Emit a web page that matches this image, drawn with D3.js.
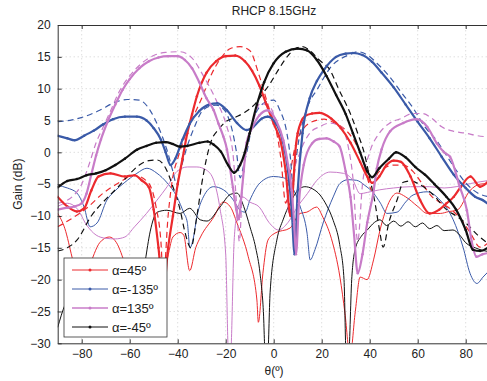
<!DOCTYPE html>
<html>
<head>
<meta charset="utf-8">
<script src="https://cdn.jsdelivr.net/npm/d3@7"></script>
<style>
  body { margin: 0; background: #fff; }
  svg text { font-family: "Liberation Sans", Arial, sans-serif; fill: #222; }
</style>
</head>
<body>
<div id="chart"></div>
<script>
// theta (deg), gain (dB) pairs
const redMain = [[-90,-7],[-86,-8.5],[-82,-9.3],[-79,-8.8],[-76,-6],[-73,-3.8],[-68,-3.3],[-62,-3.8],[-58,-3.6],[-55,-4.4],[-52,-5.5],[-50,-9],[-48,-15],[-46,-22],[-44,-15],[-42,-10],[-40,-5],[-38,-1],[-36,3],[-34,6],[-32,8.8],[-28,12.5],[-24,14.3],[-20,15.1],[-16,15.2],[-12,14.3],[-9,12.8],[-6,10.5],[-3,7.5],[0,4.5],[3,1.5],[5,-3],[7,-10],[8,-6],[9,0],[10,3],[13,5.7],[16,6.1],[19,6.2],[24,5.3],[28,3.8],[32,1.5],[36,-1.5],[39,-3.8],[41,-4.8],[44,-3.8],[47,-2],[50,-1.3],[53,-1.5],[57,-3.8],[61,-7.5],[65,-9.6],[69,-9],[72,-8],[75,-7],[78,-5.4],[82,-3.8],[86,-5.4],[90,-4.3]];
const redDash = [[-90,-11.7],[-85,-10.6],[-78,-8.8],[-71,-6.4],[-65,-4.9],[-58,-3.6],[-52,-4.9],[-49,-8.6],[-47,-14],[-46,-20],[-44,-10],[-42,-3.8],[-40,-1],[-37,2.5],[-33,6],[-30,8.5],[-26,12.2],[-22,14.8],[-18,16.3],[-14,16.6],[-10,16],[-6,12],[-2,7],[1,3.5],[3,-1],[5,-8],[7,-3],[9,1],[12,3.5],[16,4.8],[21,5.2],[26,4.5],[30,3.5],[34,1.5],[37,-1],[39,-4],[41,-6],[43,-3.5],[46,-2.5],[50,-2],[54,-2],[58,-3],[62,-5],[66,-7],[70,-8],[74,-9],[78,-10.5],[82,-12.7],[86,-14.9],[90,-14]];
const redThin = [[-90,-9.6],[-87,-12],[-84,-16.5],[-81,-21],[-77,-18],[-72.5,-14.2],[-68.5,-13.3],[-65.5,-14.2],[-62.5,-17],[-59,-22],[-55,-24],[-51,-21],[-47,-20],[-44.5,-17],[-42,-13.3],[-39,-12.6],[-37.5,-13],[-35,-18.6],[-32.5,-15],[-30.5,-13.3],[-25,-10.2],[-21,-7.8],[-18,-8.6],[-15.3,-11.1],[-10.6,-16.4],[-7,-23.2],[-6.4,-26.7],[-4.5,-19],[-2.4,-13.8],[0.5,-12.7],[6.8,-11.9],[11,-9.6],[13.8,-9.4],[17.9,-8.6],[20.5,-10.2],[24,-13.5],[27.6,-19.6],[29.7,-25.3],[31.8,-32],[34,-25],[36,-19.6],[38.9,-20],[41.6,-16.9],[44.3,-12.2],[48.5,-7.5],[51.4,-6.4],[55,-7],[60,-8.5],[64,-9.6],[69.4,-9.6],[73,-9.3],[76.4,-9.1],[81.8,-6],[86,-5],[90,-4.9]];

const blueMain = [[-90,2.6],[-86,2.2],[-83,1.9],[-79,2.6],[-75,3.4],[-71,4.4],[-67,5.2],[-62,5.6],[-57,5.6],[-53,5],[-50,3.8],[-47,2],[-45,0],[-43,-2],[-41,-1],[-38,2],[-35,4.5],[-31,6.5],[-27,7.5],[-23.5,7.7],[-19.5,6.6],[-15.3,4.6],[-11.3,3.5],[-8.5,4],[-5,5.3],[-2.5,5.6],[1,4.5],[4,1.5],[6,-3],[7.5,-9],[8.7,-16],[10,-6],[12,3],[15,8.5],[18,11.2],[21,13],[26,15],[30,15.5],[33,15.6],[37,15.3],[41,14.2],[45,12.5],[50,10.2],[55,7.5],[60,4.8],[65,2.2],[70,-0.7],[75,-3.5],[80,-5.6],[84,-7],[87,-7.5],[90,-8.3]];
const blueDash = [[-90,4.8],[-84,5.1],[-79,5.6],[-72.5,6.6],[-67,7.7],[-61,8.3],[-56,8.2],[-51.5,6.6],[-47.5,3.5],[-44.5,0.4],[-42,-3],[-40.5,-5],[-39,-3],[-36,1],[-33,4],[-30.5,6.1],[-27,7.2],[-24,7.4],[-21.5,7],[-19.5,6],[-17,3],[-15.5,0],[-14,-4],[-12.5,-2],[-11,0.4],[-8.5,5.1],[-4.2,7.7],[0,8.2],[2.6,6.6],[5.5,3],[7,-1],[8,-5],[9,-2],[10.5,2],[12.3,5],[15,8],[18,9.8],[21,11.8],[24,13.5],[28,14.7],[32,15.4],[35,15.8],[39,15.3],[43,14],[48,12],[53,9.5],[58,7],[63,4],[68,1.8],[72,-0.5],[76,-2.8],[80,-4.8],[85,-6.4],[90,-7]];
const blueThin = [[-90,-5.2],[-86,-5.6],[-82,-6.4],[-79,-8.6],[-76.5,-11.7],[-73.6,-11.1],[-69.5,-7.5],[-66,-6],[-62.3,-4.8],[-57,-3.3],[-52.8,-2.5],[-48.6,-3.3],[-44.4,-4.8],[-40.3,-7],[-37.5,-9.5],[-36,-11],[-34.9,-15],[-33.5,-13.5],[-32,-10.1],[-29.3,-7],[-25.1,-5.4],[-20.9,-5.9],[-16.8,-7.5],[-14,-9.1],[-11.9,-9.4],[-9.9,-7.5],[-5.7,-4.8],[-0.1,-3.8],[4.1,-4],[8.3,-5.9],[11.1,-8.6],[13.9,-12.7],[15.2,-16.9],[17.2,-15.3],[20.6,-11.1],[24.8,-7],[27.6,-4.9],[31,-4.3],[34.6,-4.4],[38,-5.2],[41.6,-6.4],[44.5,-8],[47.2,-9.6],[51.4,-9.4],[55,-7.8],[58.1,-6.7],[63.9,-6.2],[69.3,-7.5],[74.8,-10.6],[78.9,-14.9],[81.8,-19],[84.7,-20.6],[87.2,-19.6],[90,-18.5]];

const magentaMain = [[-90,-9],[-86,-8.7],[-83,-8.5],[-80,-8],[-78,-6.5],[-76,-3.5],[-74,-0.5],[-72,2],[-69,5],[-66,7.5],[-63,9.8],[-60,11.5],[-56,13.2],[-52,14.3],[-48,14.9],[-44,15.1],[-40,15.1],[-37,14.5],[-34,13.2],[-31,11],[-28,8.5],[-25,6.6],[-23,4.5],[-21,2.5],[-19.5,0.5],[-18.2,-2.5],[-17,-5.5],[-15.6,-9],[-14.5,-10.5],[-13.5,-7],[-12.5,-3],[-11.3,1.5],[-9,3.8],[-6,5.8],[-2.5,6.6],[1,5],[4,1.9],[6,-2],[7.5,-6],[8.5,-11],[9.3,-16],[10.5,-8],[12.5,-2],[16,1.4],[19,2.1],[22,2.2],[25,1.7],[27.5,0.9],[30,-3],[32,-7],[33.5,-13],[35,-19],[37,-16],[39,-11],[41.5,-6.4],[43,-2.5],[45,0.5],[48.5,3.3],[54,4.6],[59.5,5.2],[64,4],[68,1.4],[71,0],[73.5,-0.7],[77.5,-5.4],[80.5,-9.1],[82.5,-14],[84.5,-16.4],[87,-16],[90,-15.8]];
const magentaDash = [[-90,-8],[-84,-7],[-80,-5],[-77,-2],[-74,1.5],[-71,4],[-68,6.5],[-64,9.8],[-60,12],[-55,14],[-50,15.2],[-45,15.7],[-39,15.8],[-34,14.8],[-29,11.8],[-24,8.2],[-19.5,4],[-17,-0.1],[-15.5,-8],[-14.3,-14],[-13,-5],[-10.5,1.9],[-8,5.5],[-5.7,7.7],[-2,7.3],[1,5],[3,2.5],[5,-3],[6.5,-10],[8,-4],[11,0],[15,3],[19,4],[23.5,4.6],[28,4],[31,1],[33,-4],[35,-14],[37,-5],[40,0],[44,3],[48,4.5],[53,5.3],[58,6.1],[62,6.1],[66,5.3],[70,4],[75,3.3],[80,3],[85,2.6],[90,2.4]];
const magentaThin = [[-90,-8.5],[-86,-8],[-82,-8.8],[-78,-11.4],[-74,-13],[-70,-13.5],[-66,-13.6],[-62,-13.3],[-58,-11.7],[-53,-9.6],[-48.6,-7.5],[-44.4,-5.4],[-40.3,-3],[-36,-2.3],[-32,-2.3],[-28,-2.8],[-25,-4.4],[-22.3,-9],[-20,-16],[-18.8,-32],[-18,-32],[-16.5,-14],[-15,-9],[-13,-7],[-10,-7.8],[-6,-8.6],[-2,-11],[2,-12.2],[6,-11],[10,-8.5],[14,-6.5],[18,-4.4],[23.5,-3.1],[29,-3.3],[33,-4.4],[36,-6.5],[39,-6.3],[44,-5.9],[50,-5.6],[57,-5.4],[65,-5.4],[71,-5.6],[76,-5.4],[82,-4.9],[90,-4.4]];

const blackMain = [[-90,-5.5],[-86,-4.5],[-82,-4.2],[-78,-3.6],[-74,-3.3],[-70,-2.8],[-66,-2],[-62,-1],[-57,0.4],[-53,1],[-49,1.5],[-45,1.6],[-42,1.3],[-39,0.9],[-36,1],[-31,1.5],[-27.5,1.7],[-25,1.2],[-22,0.1],[-19,-2],[-16.5,-3.2],[-14,-2],[-12,0],[-10,3],[-7,7.5],[-4,11],[0,14],[5,15.8],[10,16.3],[14,16],[18,14.5],[22,12],[26,9],[30,6],[33,3],[36,0],[39,-3],[41,-3.9],[44,-2.5],[48,-1],[51,0],[55,-0.8],[59,-2.3],[63,-3.5],[67,-5],[72,-7],[76,-9],[80,-12.2],[83,-15.3],[86,-15.5],[90,-14.8]];
const blackDash = [[-90,-15.5],[-86,-15],[-82,-13.8],[-76,-10],[-69.5,-7.2],[-65,-5.5],[-61,-3.8],[-56,-2],[-52,-1.3],[-48.6,-1.2],[-45,-2.5],[-42,-5.4],[-39,-9],[-37,-12.5],[-34.5,-15],[-32,-10],[-30,-5],[-28,-1],[-26,1.8],[-23,3.6],[-20,4.8],[-16,5.5],[-12,6.3],[-8,7.5],[-4,9.5],[-1.5,10.8],[2,13],[6,15.2],[9,16.3],[12,16.6],[15,16],[19,14.5],[23.5,12.9],[27,10],[31.8,6.2],[35,3],[38,-0.5],[40,-4],[42,-7.5],[44,-12],[45.6,-14.9],[48,-11],[51.4,-7.5],[54,-4.7],[57,-4.5],[61,-5.1],[66,-6.5],[72,-9],[76,-10],[80,-11.1],[85,-13],[90,-14.5]];
const blackThin = [[-90,-27.5],[-87,-24],[-83,-22],[-78,-22.5],[-72,-24],[-66,-25],[-60,-25.5],[-56,-23],[-53.5,-17],[-51.5,-12.5],[-48.5,-9.4],[-44.5,-9.1],[-39,-9.6],[-35,-8.8],[-30.6,-10.6],[-27.8,-10.8],[-22.4,-8.6],[-18,-6.6],[-15.3,-6.4],[-12.5,-8.5],[-9.9,-11.7],[-7.5,-15],[-5.7,-19],[-4.3,-25],[-3.5,-32],[-2.5,-32],[-1.5,-22],[1.3,-13.8],[4,-10.5],[6.8,-8],[10,-6],[13,-5.4],[16,-5.7],[19.3,-6.7],[22,-8.3],[24.8,-10.7],[27.5,-14.5],[29.3,-20],[30.2,-32],[31.2,-32],[32.5,-20],[33.9,-15.3],[36.5,-13.2],[39,-12.2],[42,-11],[44.3,-10.6],[47,-11.5],[50,-10.8],[53,-11.6],[56,-10.9],[59,-11.7],[62,-11.1],[65,-12],[68,-11.5],[71,-12.3],[74.7,-12.2],[77.5,-13],[80,-14.2],[84,-15],[87,-15.4],[90,-15.6]];

const xTicks = [-80, -60, -40, -20, 0, 20, 40, 60, 80];
const yTicks = [-30, -25, -20, -15, -10, -5, 0, 5, 10, 15, 20];
const legendLabels = ["α=45º", "α=-135º", "α=135º", "α=-45º"];

const colors = ["#ec2a2e", "#3a5aa8", "#c87cc8", "#111111"];
const mains = [redMain, blueMain, magentaMain, blackMain];
const dashes = [redDash, blueDash, magentaDash, blackDash];
const thins = [redThin, blueThin, magentaThin, blackThin];

const W = 487, H = 381;
const margin = {top: 25, left: 57.7, bottom: 37.7};
const plotW = 432, plotH = H - margin.top - margin.bottom;

const svg = d3.select("#chart").append("svg")
  .attr("width", W).attr("height", H);

const x = d3.scaleLinear().domain([-90, 90]).range([margin.left, margin.left + plotW]);
const y = d3.scaleLinear().domain([-30, 20]).range([margin.top + plotH, margin.top]);

svg.append("clipPath").attr("id", "clip")
  .append("rect")
  .attr("x", x(-90)).attr("y", y(20))
  .attr("width", plotW).attr("height", plotH);

// grid
const grid = svg.append("g").attr("stroke", "#c4c4c4").attr("stroke-width", 0.8).attr("stroke-dasharray", "1,3");
grid.selectAll(".gx").data(xTicks).enter().append("line")
  .attr("x1", d => x(d)).attr("x2", d => x(d))
  .attr("y1", y(-30)).attr("y2", y(20));
grid.selectAll(".gy").data(yTicks.slice(1, -1)).enter().append("line")
  .attr("x1", x(-90)).attr("x2", x(90))
  .attr("y1", d => y(d)).attr("y2", d => y(d));

// curves
const line = d3.line()
  .x(d => x(d[0])).y(d => y(d[1]))
  .curve(d3.curveMonotoneX);

const plot = svg.append("g").attr("clip-path", "url(#clip)");

thins.forEach((s, i) => {
  plot.append("path").datum(s)
    .attr("d", line).attr("fill", "none")
    .attr("stroke", colors[i]).attr("stroke-width", 1);
});
dashes.forEach((s, i) => {
  plot.append("path").datum(s)
    .attr("d", line).attr("fill", "none")
    .attr("stroke", colors[i]).attr("stroke-width", 1.2)
    .attr("stroke-dasharray", "6,4");
});
mains.forEach((s, i) => {
  plot.append("path").datum(s)
    .attr("d", line).attr("fill", "none")
    .attr("stroke", colors[i]).attr("stroke-width", 2.2)
    .attr("stroke-linejoin", "round");
  plot.selectAll(null).data(s).enter().append("circle")
    .attr("cx", d => x(d[0])).attr("cy", d => y(d[1]))
    .attr("r", 1.2).attr("fill", colors[i]);
});

// axes
const xAxis = svg.append("g")
  .attr("transform", "translate(0," + y(-30) + ")")
  .call(d3.axisBottom(x).tickValues(xTicks).tickSizeInner(-4).tickSizeOuter(0).tickPadding(6));
const yAxis = svg.append("g")
  .attr("transform", "translate(" + x(-90) + ",0)")
  .call(d3.axisLeft(y).tickValues(yTicks).tickSizeInner(-4).tickSizeOuter(0).tickPadding(7));
const topAxis = svg.append("g")
  .attr("transform", "translate(0," + y(20) + ")")
  .call(d3.axisTop(x).tickValues(xTicks).tickSizeInner(-4).tickSizeOuter(0).tickFormat(""));
[xAxis, yAxis, topAxis].forEach(a => {
  a.selectAll("path, line").attr("stroke", "#333");
  a.selectAll("text").style("font-size", "12px").attr("fill", "#222");
});

// titles
svg.append("text")
  .attr("x", 274).attr("y", 15)
  .attr("text-anchor", "middle")
  .style("font-size", "12px")
  .text("RHCP 8.15GHz");

svg.append("text")
  .attr("x", 274).attr("y", 375)
  .attr("text-anchor", "middle")
  .style("font-size", "12px")
  .text("θ(º)");

svg.append("text")
  .attr("transform", "translate(22," + ((y(20) + y(-30)) / 2) + ") rotate(-90)")
  .attr("text-anchor", "middle")
  .style("font-size", "12px")
  .text("Gain (dB)");

// legend
const legend = svg.append("g").attr("transform", "translate(64,258)");
legend.append("rect")
  .attr("width", 103).attr("height", 79)
  .attr("fill", "#fff").attr("stroke", "#333").attr("stroke-width", 0.8);
legendLabels.forEach((lab, i) => {
  const row = legend.append("g").attr("transform", "translate(0," + (12 + i * 19) + ")");
  row.append("line")
    .attr("x1", 8).attr("x2", 44)
    .attr("stroke", colors[i]).attr("stroke-width", i === 2 ? 1.6 : 1);
  row.append("circle").attr("cx", 26).attr("r", 1.5).attr("fill", colors[i]);
  row.append("text")
    .attr("x", 48).attr("y", 4.5)
    .style("font-size", "13px")
    .text(lab);
});
</script>
</body>
</html>
